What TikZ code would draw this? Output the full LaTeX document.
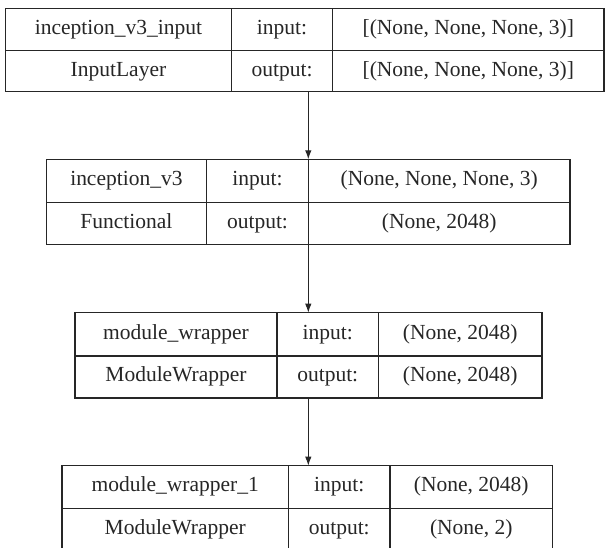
\documentclass[tikz,border=0pt]{standalone}
\usepackage{fontspec}
\setmainfont{Liberation Serif}
\usetikzlibrary{arrows.meta}
\definecolor{ink}{HTML}{262626}
\tikzset{
  cell/.style={draw=ink, line width=1.3pt, rectangle, inner sep=0pt, outer sep=0pt,
    text=ink, font=\fontsize{21.5}{25}\selectfont, text height=14.5pt, text depth=4.5pt},
  arr/.style={draw=ink, line width=1.1pt, -{Latex[length=9pt,width=6.5pt]}}
}
\newcommand{\mycell}[6]{\node[cell, minimum width={(#4-#2)*1pt}, minimum height={(#5-#3)*1pt}] (#1) at ({(#2+#4)/2},{(#3+#5)/2}) {#6};}
\begin{document}
\begin{tikzpicture}[x=1pt,y=-1pt]
\useasboundingbox (0,0) rectangle (606,548);
\clip (0,0) rectangle (606,548);
% box 1
\mycell{a1}{5.4}{8.3}{231.5}{50.7}{inception\_v3\_input}
\mycell{a2}{231.5}{8.3}{332.6}{50.7}{input:}
\mycell{a3}{332.6}{8.3}{604}{50.7}{[(None, None, None, 3)]}
\mycell{a4}{5.4}{50.7}{231.5}{91.7}{InputLayer}
\mycell{a5}{231.5}{50.7}{332.6}{91.7}{output:}
\mycell{a6}{332.6}{50.7}{604}{91.7}{[(None, None, None, 3)]}
% box 2
\mycell{b1}{46.3}{159.3}{206.5}{202.3}{inception\_v3}
\mycell{b2}{206.5}{159.3}{308.5}{202.3}{input:}
\mycell{b3}{308.5}{159.3}{570}{202.3}{(None, None, None, 3)}
\mycell{b4}{46.3}{202.3}{206.5}{244.7}{Functional}
\mycell{b5}{206.5}{202.3}{308.5}{244.7}{output:}
\mycell{b6}{308.5}{202.3}{570}{244.7}{(None, 2048)}
% box 3
\mycell{c1}{75}{312.7}{277}{356}{module\_wrapper}
\mycell{c2}{277}{312.7}{378.5}{356}{input:}
\mycell{c3}{378.5}{312.7}{542}{356}{(None, 2048)}
\mycell{c4}{75}{356}{277}{398}{ModuleWrapper}
\mycell{c5}{277}{356}{378.5}{398}{output:}
\mycell{c6}{378.5}{356}{542}{398}{(None, 2048)}
% box 4
\mycell{d1}{62}{465.7}{288.5}{508.3}{module\_wrapper\_1}
\mycell{d2}{288.5}{465.7}{390}{508.3}{input:}
\mycell{d3}{390}{465.7}{552.5}{508.3}{(None, 2048)}
\mycell{d4}{62}{508.3}{288.5}{551}{ModuleWrapper}
\mycell{d5}{288.5}{508.3}{390}{551}{output:}
\mycell{d6}{390}{508.3}{552.5}{551}{(None, 2)}
% arrows
\coordinate (ax) at (308.3,0);
\draw[arr] (ax |- a5.south) -- (ax |- b3.north);
\draw[arr] (ax |- b6.south) -- (ax |- c2.north);
\draw[arr] (ax |- c5.south) -- (ax |- d2.north);
\end{tikzpicture}
\end{document}
